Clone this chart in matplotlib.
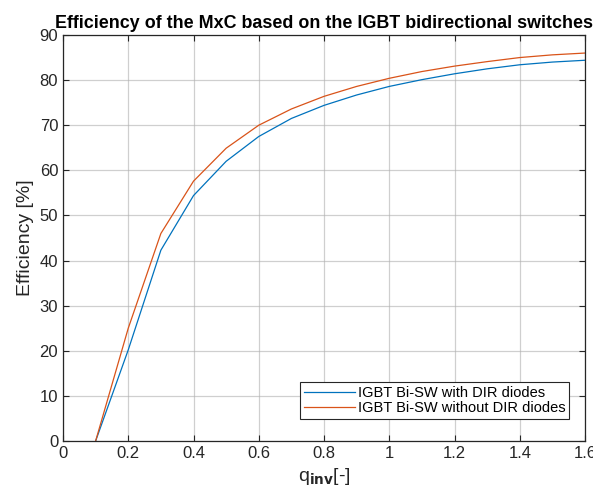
import matplotlib
matplotlib.use("Agg")
import matplotlib.pyplot as plt

plt.rcParams['font.family'] = ['Liberation Sans', 'DejaVu Sans']

q_inv = [0.1, 0.2, 0.3, 0.4, 0.5, 0.6, 0.7, 0.8, 0.9, 1.0, 1.1, 1.2, 1.3, 1.4, 1.5, 1.6]
eff_with = [0, 20.2, 42.3, 54.4, 62.0, 67.5, 71.5, 74.4, 76.7, 78.6, 80.1, 81.4, 82.5, 83.4, 84.0, 84.4]
eff_without = [0, 25.0, 46.0, 57.6, 64.9, 70.0, 73.6, 76.4, 78.6, 80.4, 81.9, 83.1, 84.1, 85.0, 85.6, 86.0]
labels = ["IGBT Bi-SW with DIR diodes", "IGBT Bi-SW without DIR diodes"]

fig = plt.figure(figsize=(5.93, 4.98), dpi=100)
ax = fig.add_axes([63/593, 1 - 441/498, (585 - 63)/593, (441 - 35)/498])

ax.plot(q_inv, eff_with, color='#0072BD', lw=0.9, label=labels[0])
ax.plot(q_inv, eff_without, color='#D95319', lw=0.9, label=labels[1])

ax.set_xlim(0, 1.6)
ax.set_ylim(0, 90)
ax.set_xticks([0, 0.2, 0.4, 0.6, 0.8, 1, 1.2, 1.4, 1.6])
ax.set_xticklabels(['0', '0.2', '0.4', '0.6', '0.8', '1', '1.2', '1.4', '1.6'])
ax.set_yticks(range(0, 91, 10))
ax.grid(True, color='#b0b0b0', lw=0.9, alpha=0.6)
ax.tick_params(direction='in', length=4, labelsize=12, colors='#262626', top=True, right=True)
for s in ax.spines.values():
    s.set_color('#262626')
    s.set_linewidth(0.9)

ax.set_title("Efficiency of the MxC based on the IGBT bidirectional switches",
             fontsize=12.9, fontweight='bold', pad=5)
ax.set_xlabel(r"q$_{\mathbf{inv}}$[-]", fontsize=14, color='#262626', labelpad=4)
ax.set_ylabel("Efficiency [%]", fontsize=14, color='#262626')

leg = ax.legend(loc='lower right', bbox_to_anchor=(0.969, 0.054), fontsize=10.5,
                fancybox=False, framealpha=1, edgecolor='#262626',
                handlelength=3.5, handletextpad=0.2, borderpad=0.25,
                labelspacing=0.1, borderaxespad=0)
leg.get_frame().set_linewidth(0.8)

fig.savefig("out.png", dpi=100)
